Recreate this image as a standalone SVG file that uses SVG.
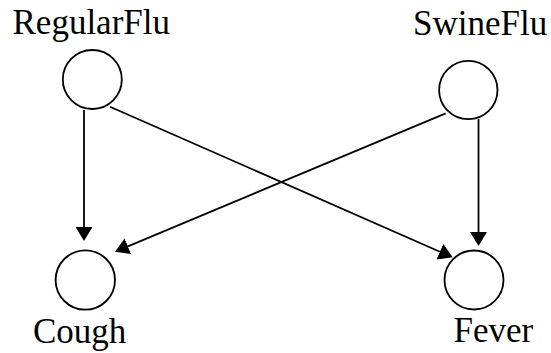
<svg xmlns="http://www.w3.org/2000/svg" width="551" height="353" viewBox="0 0 551 353">
<style>
.node circle{fill:#fff;stroke:#000;stroke-width:1.8}
.node text{font-family:"Liberation Serif","Times New Roman",serif;font-size:35px;fill:#000}
.edge{stroke:#000;stroke-width:1.8;fill:none;marker-end:url(#arrow)}
</style>
<defs>
<marker id="arrow" viewBox="0 0 14 17" refX="0" refY="8.5" markerWidth="14" markerHeight="17" markerUnits="userSpaceOnUse" orient="auto">
<path d="M0,0 L14,8.5 L0,17 Z" fill="#000"/>
</marker>
</defs>
<rect width="551" height="353" fill="#fff"/>
<g id="connectors">
<line class="edge" x1="84" y1="110" x2="84" y2="227"/>
<line class="edge" x1="110" y1="106.7" x2="439.9" y2="251.7"/>
<line class="edge" x1="445.7" y1="113.3" x2="127.9" y2="246.3"/>
<line class="edge" x1="478.5" y1="119" x2="478.5" y2="232"/>
</g>
<g id="RegularFlu" class="node">
<circle cx="92.3" cy="79.5" r="29.5"/>
<text x="12.5" y="34">RegularFlu</text>
</g>
<g id="SwineFlu" class="node">
<circle cx="468.3" cy="90" r="29.2"/>
<text x="413" y="35">SwineFlu</text>
</g>
<g id="Cough" class="node">
<circle cx="85.3" cy="280" r="29.7"/>
<text x="33" y="343">Cough</text>
</g>
<g id="Fever" class="node">
<circle cx="474" cy="280" r="29.5"/>
<text x="453.5" y="342">Fever</text>
</g>
</svg>
